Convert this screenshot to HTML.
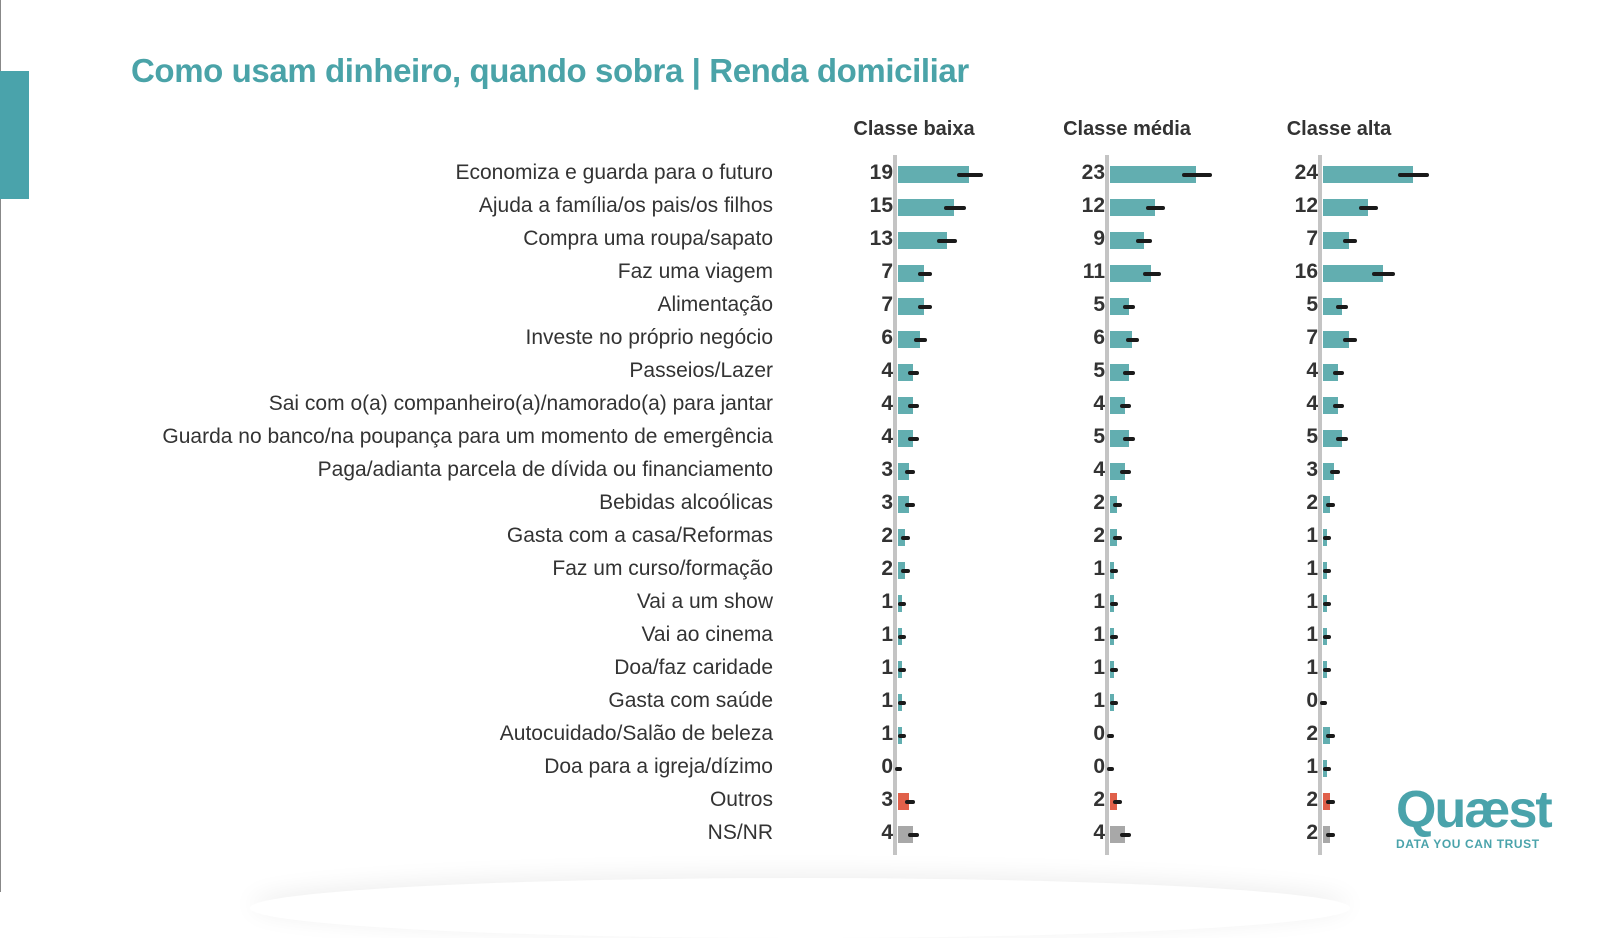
<!DOCTYPE html>
<html><head><meta charset="utf-8"><style>
*{margin:0;padding:0;box-sizing:border-box}
body{width:1600px;height:892px;background:#fff;position:relative;overflow:hidden;font-family:"Liberation Sans",sans-serif}
.edge{position:absolute;left:0;top:0;width:1px;height:892px;background:#888}
.tab{position:absolute;left:0;top:71px;width:29px;height:128px;background:#4aa3ab}
h1{position:absolute;left:131px;top:52px;font-size:33px;font-weight:bold;color:#4aa3a8;letter-spacing:-0.4px;white-space:nowrap}
.hd{position:absolute;top:118px;font-size:20px;font-weight:bold;color:#333;width:200px;text-align:center}
.ax{position:absolute;top:155px;height:700px;width:4px;background:#c4c4c4}
.r{position:absolute;left:0;width:1600px;height:33px}
.l{position:absolute;right:827px;top:3px;font-size:21px;color:#333;white-space:nowrap}
.g{position:absolute;top:0;height:33px}
.g i{position:absolute;right:calc(100% + 5px);top:3px;font-style:normal;font-weight:bold;font-size:21px;color:#333}
.g s{position:absolute;left:0;top:8px;height:17px;width:calc(var(--v)*3.74px);background:#62aeb0}
.g u{position:absolute;top:14.5px;height:4px;border-radius:2px;background:#1a1a1a;width:calc(7px + var(--v)*1px);left:calc(var(--v)*3.74px - 3px - var(--v)*0.5px)}
.o s{background:#e0604a}.n s{background:#a8a8a8}
.g1{left:898px}.g2{left:1110px}.g3{left:1323px}
.logo{position:absolute;left:1396px;top:784px;color:#4aa3ab}
.logo .q{font-size:52px;font-weight:bold;letter-spacing:-2px;line-height:52px}
.logo .t{font-size:12px;font-weight:bold;letter-spacing:0.6px;margin-top:1px}
.sh{position:absolute;left:250px;top:878px;width:1100px;height:60px;border-radius:50%;box-shadow:0 -4px 24px rgba(0,0,0,0.07)}
</style></head><body>
<div class="edge"></div><div class="tab"></div>
<h1>Como usam dinheiro, quando sobra | Renda domiciliar</h1>
<div class="hd" style="left:814px">Classe baixa</div>
<div class="hd" style="left:1027px">Classe média</div>
<div class="hd" style="left:1239px">Classe alta</div>
<div class="ax" style="left:893px"></div><div class="ax" style="left:1105px"></div><div class="ax" style="left:1318px"></div>

<div class="r" style="top:158px"><span class="l">Economiza e guarda para o futuro</span><div class="g g1" style="--v:19"><i>19</i><s></s><u></u></div><div class="g g2" style="--v:23"><i>23</i><s></s><u></u></div><div class="g g3" style="--v:24"><i>24</i><s></s><u></u></div></div>
<div class="r" style="top:191px"><span class="l">Ajuda a família/os pais/os filhos</span><div class="g g1" style="--v:15"><i>15</i><s></s><u></u></div><div class="g g2" style="--v:12"><i>12</i><s></s><u></u></div><div class="g g3" style="--v:12"><i>12</i><s></s><u></u></div></div>
<div class="r" style="top:224px"><span class="l">Compra uma roupa/sapato</span><div class="g g1" style="--v:13"><i>13</i><s></s><u></u></div><div class="g g2" style="--v:9"><i>9</i><s></s><u></u></div><div class="g g3" style="--v:7"><i>7</i><s></s><u></u></div></div>
<div class="r" style="top:257px"><span class="l">Faz uma viagem</span><div class="g g1" style="--v:7"><i>7</i><s></s><u></u></div><div class="g g2" style="--v:11"><i>11</i><s></s><u></u></div><div class="g g3" style="--v:16"><i>16</i><s></s><u></u></div></div>
<div class="r" style="top:290px"><span class="l">Alimentação</span><div class="g g1" style="--v:7"><i>7</i><s></s><u></u></div><div class="g g2" style="--v:5"><i>5</i><s></s><u></u></div><div class="g g3" style="--v:5"><i>5</i><s></s><u></u></div></div>
<div class="r" style="top:323px"><span class="l">Investe no próprio negócio</span><div class="g g1" style="--v:6"><i>6</i><s></s><u></u></div><div class="g g2" style="--v:6"><i>6</i><s></s><u></u></div><div class="g g3" style="--v:7"><i>7</i><s></s><u></u></div></div>
<div class="r" style="top:356px"><span class="l">Passeios/Lazer</span><div class="g g1" style="--v:4"><i>4</i><s></s><u></u></div><div class="g g2" style="--v:5"><i>5</i><s></s><u></u></div><div class="g g3" style="--v:4"><i>4</i><s></s><u></u></div></div>
<div class="r" style="top:389px"><span class="l">Sai com o(a) companheiro(a)/namorado(a) para jantar</span><div class="g g1" style="--v:4"><i>4</i><s></s><u></u></div><div class="g g2" style="--v:4"><i>4</i><s></s><u></u></div><div class="g g3" style="--v:4"><i>4</i><s></s><u></u></div></div>
<div class="r" style="top:422px"><span class="l">Guarda no banco/na poupança para um momento de emergência</span><div class="g g1" style="--v:4"><i>4</i><s></s><u></u></div><div class="g g2" style="--v:5"><i>5</i><s></s><u></u></div><div class="g g3" style="--v:5"><i>5</i><s></s><u></u></div></div>
<div class="r" style="top:455px"><span class="l">Paga/adianta parcela de dívida ou financiamento</span><div class="g g1" style="--v:3"><i>3</i><s></s><u></u></div><div class="g g2" style="--v:4"><i>4</i><s></s><u></u></div><div class="g g3" style="--v:3"><i>3</i><s></s><u></u></div></div>
<div class="r" style="top:488px"><span class="l">Bebidas alcoólicas</span><div class="g g1" style="--v:3"><i>3</i><s></s><u></u></div><div class="g g2" style="--v:2"><i>2</i><s></s><u></u></div><div class="g g3" style="--v:2"><i>2</i><s></s><u></u></div></div>
<div class="r" style="top:521px"><span class="l">Gasta com a casa/Reformas</span><div class="g g1" style="--v:2"><i>2</i><s></s><u></u></div><div class="g g2" style="--v:2"><i>2</i><s></s><u></u></div><div class="g g3" style="--v:1"><i>1</i><s></s><u></u></div></div>
<div class="r" style="top:554px"><span class="l">Faz um curso/formação</span><div class="g g1" style="--v:2"><i>2</i><s></s><u></u></div><div class="g g2" style="--v:1"><i>1</i><s></s><u></u></div><div class="g g3" style="--v:1"><i>1</i><s></s><u></u></div></div>
<div class="r" style="top:587px"><span class="l">Vai a um show</span><div class="g g1" style="--v:1"><i>1</i><s></s><u></u></div><div class="g g2" style="--v:1"><i>1</i><s></s><u></u></div><div class="g g3" style="--v:1"><i>1</i><s></s><u></u></div></div>
<div class="r" style="top:620px"><span class="l">Vai ao cinema</span><div class="g g1" style="--v:1"><i>1</i><s></s><u></u></div><div class="g g2" style="--v:1"><i>1</i><s></s><u></u></div><div class="g g3" style="--v:1"><i>1</i><s></s><u></u></div></div>
<div class="r" style="top:653px"><span class="l">Doa/faz caridade</span><div class="g g1" style="--v:1"><i>1</i><s></s><u></u></div><div class="g g2" style="--v:1"><i>1</i><s></s><u></u></div><div class="g g3" style="--v:1"><i>1</i><s></s><u></u></div></div>
<div class="r" style="top:686px"><span class="l">Gasta com saúde</span><div class="g g1" style="--v:1"><i>1</i><s></s><u></u></div><div class="g g2" style="--v:1"><i>1</i><s></s><u></u></div><div class="g g3" style="--v:0"><i>0</i><s></s><u></u></div></div>
<div class="r" style="top:719px"><span class="l">Autocuidado/Salão de beleza</span><div class="g g1" style="--v:1"><i>1</i><s></s><u></u></div><div class="g g2" style="--v:0"><i>0</i><s></s><u></u></div><div class="g g3" style="--v:2"><i>2</i><s></s><u></u></div></div>
<div class="r" style="top:752px"><span class="l">Doa para a igreja/dízimo</span><div class="g g1" style="--v:0"><i>0</i><s></s><u></u></div><div class="g g2" style="--v:0"><i>0</i><s></s><u></u></div><div class="g g3" style="--v:1"><i>1</i><s></s><u></u></div></div>
<div class="r" style="top:785px"><span class="l">Outros</span><div class="g g1 o" style="--v:3"><i>3</i><s></s><u></u></div><div class="g g2 o" style="--v:2"><i>2</i><s></s><u></u></div><div class="g g3 o" style="--v:2"><i>2</i><s></s><u></u></div></div>
<div class="r" style="top:818px"><span class="l">NS/NR</span><div class="g g1 n" style="--v:4"><i>4</i><s></s><u></u></div><div class="g g2 n" style="--v:4"><i>4</i><s></s><u></u></div><div class="g g3 n" style="--v:2"><i>2</i><s></s><u></u></div></div>

<div class="logo"><div class="q">Quæst</div><div class="t">DATA YOU CAN TRUST</div></div>
<div class="sh"></div>
</body></html>
